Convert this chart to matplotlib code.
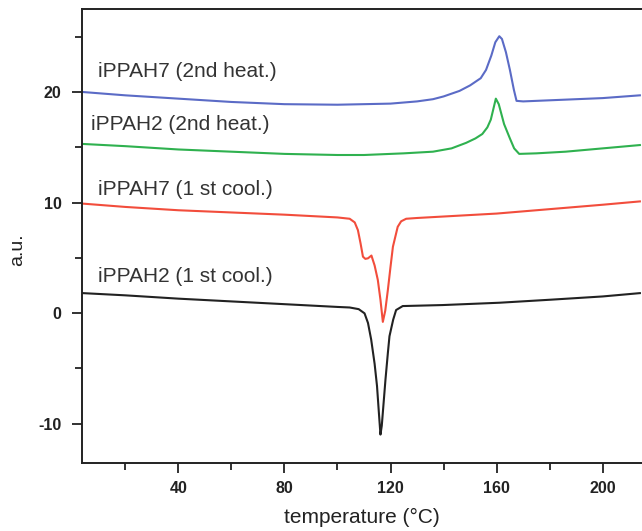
import matplotlib
matplotlib.use('Agg')
import matplotlib.pyplot as plt
from matplotlib.ticker import MultipleLocator
import numpy as np

plt.rcParams['font.family'] = ['Liberation Sans', 'DejaVu Sans']
plt.rcParams['axes.unicode_minus'] = False

# iPPAH7 (2nd heat.)
t_h7 = [4, 20, 40, 60, 80, 100, 120, 130, 136, 140, 146, 150, 154, 156, 158, 159.5, 161, 162, 163.5, 165, 166.5, 167.5, 170, 180, 200, 214]
v_h7 = [20.0, 19.7, 19.4, 19.1, 18.9, 18.85, 18.95, 19.15, 19.35, 19.6, 20.1, 20.6, 21.25, 22.0, 23.3, 24.5, 25.05, 24.8, 23.6, 22.0, 20.2, 19.2, 19.15, 19.25, 19.45, 19.7]

# iPPAH2 (2nd heat.)
t_h2 = [4, 20, 40, 60, 80, 100, 110, 125, 136, 143, 148.5, 152, 154.6, 156.5, 157.8, 159, 159.7, 160.8, 162.8, 165, 166.6, 168.5, 175, 186, 200, 214]
v_h2 = [15.3, 15.1, 14.8, 14.6, 14.4, 14.3, 14.3, 14.45, 14.6, 14.9, 15.4, 15.8, 16.2, 16.8, 17.5, 18.7, 19.4, 18.9, 17.1, 15.8, 14.9, 14.4, 14.45, 14.6, 14.9, 15.2]

# iPPAH7 (1st cool.)
t_c7 = [4, 20, 40, 60, 80, 100, 104.6, 106.5, 107.7, 108.7, 109.6, 110.5, 111.5, 112.8, 114, 115.2, 116.2, 117.1, 118, 119, 120, 120.9, 122.7, 124, 125.9, 130, 145, 160, 180, 200, 214]
v_c7 = [9.9, 9.6, 9.3, 9.1, 8.9, 8.65, 8.53, 8.2, 7.5, 6.3, 5.1, 4.9, 4.95, 5.2, 4.3, 3.0, 1.2, -0.8, 0.2, 2.1, 4.2, 6.0, 7.8, 8.3, 8.53, 8.6, 8.8, 9.0, 9.4, 9.8, 10.1]

# iPPAH2 (1st cool.)
t_c2 = [4, 20, 40, 60, 80, 100, 104.6, 108, 110.2, 111.5, 112.7, 114, 114.9, 115.6, 116.2, 116.7, 117.1, 118.1, 119, 119.6, 121, 122.1, 124.6, 139.6, 161, 180, 200, 214]
v_c2 = [1.8, 1.6, 1.3, 1.05, 0.8, 0.55, 0.5, 0.35, -0.03, -0.9, -2.4, -4.6, -6.6, -9.0, -11.0, -10.2, -9.0, -6.0, -3.6, -2.1, -0.6, 0.27, 0.63, 0.72, 0.93, 1.2, 1.5, 1.8]

labels = ['iPPAH7 (2nd heat.)', 'iPPAH2 (2nd heat.)', 'iPPAH7 (1 st cool.)', 'iPPAH2 (1 st cool.)']
label_x = [9.7, 7.0, 9.7, 9.7]
label_y = [21.38, 16.56, 10.68, 2.83]
colors = ['#5b6bc6', '#2fb14f', '#f24d3c', '#222222']

fig = plt.figure(figsize=(6.42, 5.31), dpi=100)
ax = fig.add_axes([0.1282, 0.1275, 0.8718, 0.8555])

series = [(t_h7, v_h7), (t_h2, v_h2), (t_c7, v_c7), (t_c2, v_c2)]
for (t, v), c in zip(series, colors):
    ax.plot(t, v, color=c, lw=1.5)

for lab, x, y in zip(labels, label_x, label_y):
    ax.text(x, y, lab, fontsize=15, color='#333333', va='baseline', ha='left')

ax.set_xlim(3.8, 214.8)
ax.set_ylim(-13.6, 27.51)
ax.xaxis.set_major_locator(MultipleLocator(40))
ax.xaxis.set_minor_locator(MultipleLocator(20))
ax.yaxis.set_major_locator(MultipleLocator(10))
ax.yaxis.set_minor_locator(MultipleLocator(5))
ax.tick_params(which='both', direction='out', width=1.3, labelsize=11.5, colors='#222222')
ax.tick_params(which='major', length=7)
ax.tick_params(axis='x', which='major', pad=6)
ax.tick_params(axis='y', which='major', pad=8)
ax.tick_params(which='minor', length=5)
for lab in ax.get_xticklabels() + ax.get_yticklabels():
    lab.set_fontweight('bold')
ax.spines['right'].set_visible(False)
for s in ['left', 'bottom', 'top']:
    ax.spines[s].set_linewidth(1.4)
    ax.spines[s].set_color('#222222')

ax.set_xlabel('temperature (°C)', fontsize=15, color='#222222', labelpad=8)
ax.set_ylabel('a.u.', fontsize=14, color='#222222')
ax.yaxis.set_label_coords(-0.10, 0.47)

fig.savefig('out.png', dpi=100)
